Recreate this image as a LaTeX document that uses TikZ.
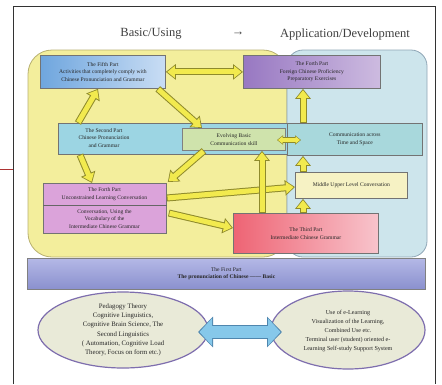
\documentclass[tikz,border=0pt]{standalone}
\usepackage{fontspec}
\setmainfont{Liberation Serif}
\usetikzlibrary{arrows.meta,shapes.geometric}
\definecolor{yreg}{HTML}{F3EE9C}
\definecolor{yregb}{HTML}{B8B070}
\definecolor{breg}{HTML}{CDE5EC}
\definecolor{bregb}{HTML}{8FA6B6}
\definecolor{yfill}{HTML}{F2EA4E}
\definecolor{yline}{HTML}{8E8A2C}
\definecolor{bfill}{HTML}{86C8EA}
\definecolor{bline}{HTML}{4F86AE}
\definecolor{c5a}{HTML}{6FA6DE}
\definecolor{c5b}{HTML}{C9DDF4}
\definecolor{c6a}{HTML}{9878C2}
\definecolor{c6b}{HTML}{CDBBE0}
\definecolor{c2}{HTML}{9CD5E3}
\definecolor{ccm}{HTML}{A8D8DC}
\definecolor{cev}{HTML}{CFE3AC}
\definecolor{c4}{HTML}{DBA3DA}
\definecolor{cmu}{HTML}{F6F2C4}
\definecolor{c3a}{HTML}{EE6474}
\definecolor{c3b}{HTML}{F8C4CC}
\definecolor{c1a}{HTML}{B4B8E6}
\definecolor{c1b}{HTML}{8A90CE}
\definecolor{elf}{HTML}{E9EAD8}
\definecolor{elb}{HTML}{7E6EAE}
\tikzset{
  x=1pt,y=-1pt,
  box/.style={draw=#1, line width=0.8pt, inner sep=0pt, anchor=north west},
  txt/.style={font=\fontsize{5.6}{7.4}\selectfont, align=center, inner sep=0pt, text=black!85},
  ttl/.style={font=\fontsize{12.5}{14}\selectfont, text=black!75},
  ell/.style={ellipse, draw=elb, line width=1.2pt, fill=elf, inner sep=0pt},
  youter/.style={draw=yline, line width=7pt},
  yinner/.style={draw=yfill, line width=5pt},
  youtS/.style={draw=yline, line width=5.5pt},
  yinS/.style={draw=yfill, line width=3.8pt},
}
\newcommand\yarr[3]{%
  \draw[youter,-{Triangle[length=10pt,width=15pt]},#3] (#1) -- (#2);
  \draw[yinner,-{Triangle[length=7.6pt,width=11.6pt]},shorten >=1.4pt,shorten <=0.8pt,#3] (#1) -- (#2);}
\newcommand\yarrd[3]{%
  \draw[youter,{Triangle[length=10pt,width=15pt]}-{Triangle[length=10pt,width=15pt]},#3] (#1) -- (#2);
  \draw[yinner,{Triangle[length=7.6pt,width=11.6pt]}-{Triangle[length=7.6pt,width=11.6pt]},shorten >=1.4pt,shorten <=1.4pt,#3] (#1) -- (#2);}
\begin{document}
\begin{tikzpicture}
\useasboundingbox (0,0) rectangle (442,384);
% frame
\draw[black!80, line width=0.8pt] (13,384) -- (13,6) -- (435,6) -- (435,384);
\coordinate (tickL) at (0,169);
\coordinate (tickR) at (13,169);
\draw[red!60!black!80, line width=0.6pt] (tickL) -- (tickR);
% titles
\node[ttl] (t1) at (151,34) {Basic/Using};
\node[ttl] (t2) at (238,34) {→};
\node[ttl] (t3) at (345,34) {Application/Development};
% regions
\draw[yregb, fill=yreg, line width=0.8pt, rounded corners=24pt] (28,50) rectangle (287,257);
\draw[bregb, fill=breg, line width=0.8pt, rounded corners=16pt] (287,50) rectangle (427,257);
% boxes
\node[box=black!55, minimum width=125, minimum height=33, left color=c5a, right color=c5b] (b5) at (40,55) {};
\node[txt] at (b5.center) {The Fifth Part\\Activities that completely comply with\\Chinese Pronunciation and Grammar};
\node[box=black!55, minimum width=137, minimum height=33, left color=c6a, right color=c6b] (b6) at (243,55) {};
\node[txt] at (b6.center) {The Forth Part\\Foreign Chinese Proficiency\\Preparatory Exercises};
\node[box=black!55, minimum width=229, minimum height=31, fill=c2] (b2) at (58,123) {};
\node[txt] (b2t) at (104,138) {The Second Part\\Chinese Pronunciation\\and Grammar};
\node[box=black!55, minimum width=135, minimum height=32, fill=ccm] (cm) at (287,123) {};
\node[txt] at (cm.center) {Communication across\\Time and Space};
\node[box=black!50, minimum width=103, minimum height=22, fill=cev] (ev) at (182,128) {};
\node[txt] at (ev.center) {Evolving Basic\\Communication skill};
\node[box=black!55, minimum width=123, minimum height=50, fill=c4] (b4) at (43,183) {};
\draw[black!60, line width=0.7pt] ([yshift=-22]b4.north west) coordinate (dl) -- ([yshift=-22]b4.north east) coordinate (dr);
\node[txt] at (104.5,194) {The Forth Part\\Unconstrained Learning Conversation};
\node[txt] at (104.5,219) {Conversation, Using the\\Vocabulary of the\\Intermediate Chinese Grammar};
\node[box=black!55, minimum width=112, minimum height=26, fill=cmu] (mu) at (295,172) {};
\node[txt] at (mu.center) {Middle Upper Level Conversation};
\node[box=black!55, minimum width=145, minimum height=40, left color=c3a, right color=c3b] (b3) at (233,213) {};
\node[txt] at (b3.center) {The Third Part\\Intermediate Chinese Grammar};
\node[box=black!50, minimum width=398, minimum height=31, top color=c1a, bottom color=c1b] (b1) at (27,258) {};
\node[txt] at (b1.center) {The First Part\\\textbf{The pronunciation of Chinese —— Basic}};
% ellipses
\node[ell, minimum width=170, minimum height=76] (el) at (123,330) {};
\node[txt, font=\fontsize{6.8}{9.3}\selectfont] at (el.center) {Pedagogy Theory\\Cognitive Linguistics,\\Cognitive Brain Science, The\\Second Linguistics\\( Automation, Cognitive Load\\Theory, Focus on form etc.)};
\node[ell, minimum width=154, minimum height=78] (er) at (348,330) {};
\node[txt, font=\fontsize{6.1}{8.8}\selectfont] at ([yshift=-1]er.center) {Use of e-Learning\\Visualization of the Learning,\\Combined Use etc.\\Terminal user (student) oriented e-\\Learning Self-study Support System};
% blue double arrow
\coordinate (ba) at (198,332);
\coordinate (bb) at (282,332);
\draw[draw=bline, line width=14pt, {Triangle[length=15pt,width=30pt]}-{Triangle[length=15pt,width=30pt]}] (ba) -- (bb);
\draw[draw=bfill, line width=12pt, {Triangle[length=12.5pt,width=26.5pt]}-{Triangle[length=12.5pt,width=26.5pt]}, shorten >=1.5pt, shorten <=1.5pt] (ba) -- (bb);
% yellow arrows
\yarrd{b5.east}{b6.west}{}
\yarr{[xshift=20]b2.north west}{[xshift=58]b5.south west}{}
\yarr{[xshift=-8]b5.south east}{[xshift=20]ev.north west}{}
\yarr{[xshift=22]b2.south west}{[xshift=49]b4.north west}{}
\yarr{[xshift=22]ev.south west}{[xshift=1,yshift=1]b4.north east}{}
\yarr{[yshift=-15]b4.north east}{[yshift=-15]mu.north west}{}
\yarr{[xshift=2,yshift=-30]b4.north east}{[yshift=-15]b3.north west}{}
\yarr{[xshift=29]b3.north west}{[xshift=80]ev.south west}{youter/.append style={line width=5.5pt}, yinner/.append style={line width=3.8pt}}
\yarr{[xshift=70]b3.north west}{[xshift=8]mu.south west}{}
\yarr{[xshift=8]mu.north west}{[xshift=16]cm.south west}{}
\yarr{[xshift=16]cm.north west}{[xshift=60]b6.south west}{}
\coordinate (sa) at (277,140);
\coordinate (sb) at (301,140);
\draw[youtS,{Triangle[length=6pt,width=9pt]}-{Triangle[length=6pt,width=9pt]}] (sa) -- (sb);
\draw[yinS,{Triangle[length=4.5pt,width=7pt]}-{Triangle[length=4.5pt,width=7pt]},shorten >=1pt,shorten <=1pt] (sa) -- (sb);
\end{tikzpicture}
\end{document}
